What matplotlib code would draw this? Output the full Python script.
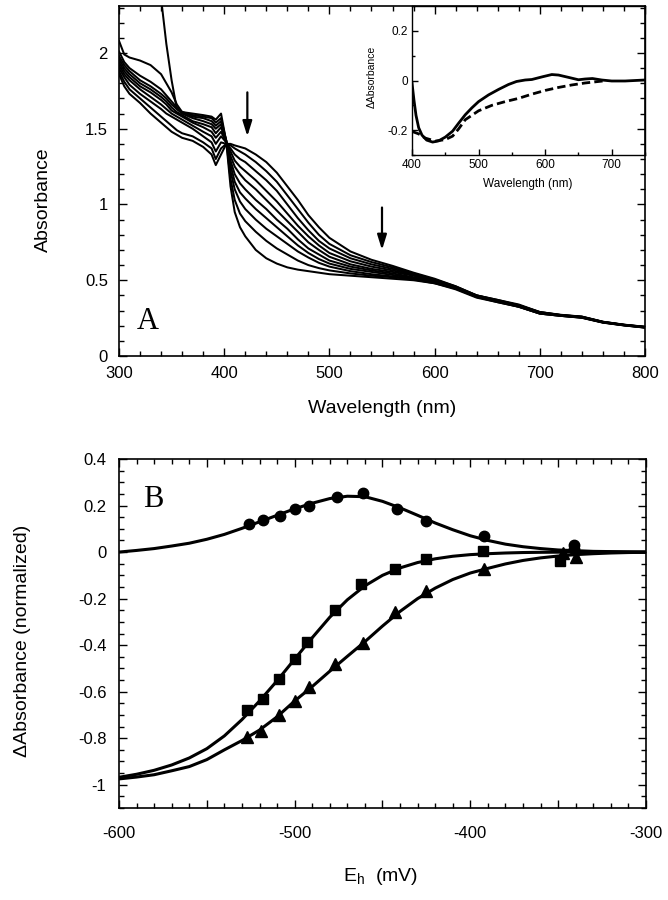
import matplotlib
matplotlib.use('Agg')
import matplotlib.pyplot as plt
from matplotlib.ticker import MultipleLocator, FuncFormatter

plt.rcParams['font.family'] = ['Liberation Sans', 'DejaVu Sans']
plt.rcParams['axes.unicode_minus'] = False
plt.rcParams['mathtext.fontset'] = 'custom'
plt.rcParams['mathtext.rm'] = 'Liberation Sans'

# ---------------- Panel A: redox titration spectra ----------------
wavelength = [300, 305, 310, 320, 330, 340, 345, 350, 355, 360, 370, 380, 388, 392, 397, 402,
              406, 410, 415, 420, 430, 440, 450, 460, 470, 480, 490, 500, 520, 540, 560, 580,
              600, 620, 640, 660, 680, 700, 720, 740, 760, 780, 800]

spec_01 = [1.86, 1.78, 1.73, 1.67, 1.60, 1.54, 1.51, 1.48, 1.46, 1.44, 1.42, 1.38, 1.33, 1.26, 1.33, 1.40,
           1.40, 1.39, 1.38, 1.37, 1.33, 1.28, 1.21, 1.12, 1.03, 0.93, 0.85, 0.78, 0.69, 0.635, 0.595, 0.55,
           0.51, 0.46, 0.40, 0.37, 0.34, 0.29, 0.272, 0.26, 0.226, 0.207, 0.193]
spec_02 = [1.88, 1.81, 1.76, 1.70, 1.64, 1.58, 1.55, 1.52, 1.49, 1.47, 1.45, 1.41, 1.37, 1.30, 1.37, 1.40,
           1.39, 1.37, 1.35, 1.33, 1.28, 1.22, 1.15, 1.06, 0.97, 0.88, 0.80, 0.74, 0.665, 0.62, 0.585, 0.545,
           0.505, 0.46, 0.40, 0.37, 0.335, 0.29, 0.27, 0.26, 0.226, 0.206, 0.192]
spec_03 = [1.90, 1.84, 1.79, 1.73, 1.68, 1.63, 1.60, 1.58, 1.56, 1.54, 1.50, 1.45, 1.41, 1.35, 1.41, 1.40,
           1.37, 1.33, 1.30, 1.28, 1.22, 1.16, 1.09, 1.00, 0.91, 0.83, 0.76, 0.71, 0.645, 0.605, 0.575, 0.54,
           0.50, 0.455, 0.40, 0.365, 0.335, 0.29, 0.27, 0.258, 0.225, 0.206, 0.192]
spec_04 = [1.92, 1.86, 1.82, 1.76, 1.71, 1.66, 1.63, 1.60, 1.58, 1.56, 1.52, 1.48, 1.45, 1.40, 1.45, 1.41,
           1.35, 1.29, 1.25, 1.22, 1.16, 1.09, 1.02, 0.94, 0.86, 0.79, 0.73, 0.68, 0.625, 0.59, 0.565, 0.535,
           0.50, 0.455, 0.395, 0.365, 0.335, 0.285, 0.27, 0.258, 0.224, 0.205, 0.191]
spec_05 = [1.94, 1.88, 1.84, 1.78, 1.74, 1.69, 1.66, 1.62, 1.60, 1.58, 1.54, 1.51, 1.48, 1.44, 1.48, 1.41,
           1.32, 1.25, 1.20, 1.16, 1.10, 1.03, 0.96, 0.89, 0.82, 0.75, 0.70, 0.655, 0.605, 0.575, 0.555, 0.53,
           0.495, 0.45, 0.395, 0.365, 0.33, 0.285, 0.268, 0.256, 0.224, 0.205, 0.19]
spec_06 = [1.96, 1.90, 1.86, 1.80, 1.76, 1.71, 1.68, 1.64, 1.61, 1.59, 1.55, 1.53, 1.51, 1.47, 1.51, 1.41,
           1.29, 1.20, 1.14, 1.10, 1.03, 0.97, 0.90, 0.84, 0.77, 0.71, 0.67, 0.63, 0.59, 0.565, 0.545, 0.52,
           0.49, 0.45, 0.395, 0.36, 0.33, 0.285, 0.268, 0.256, 0.223, 0.204, 0.19]
spec_07 = [1.98, 1.92, 1.88, 1.82, 1.78, 1.73, 1.70, 1.66, 1.63, 1.60, 1.57, 1.55, 1.53, 1.50, 1.53, 1.42,
           1.26, 1.15, 1.08, 1.04, 0.97, 0.91, 0.85, 0.79, 0.73, 0.68, 0.64, 0.61, 0.575, 0.555, 0.535, 0.515,
           0.49, 0.45, 0.39, 0.36, 0.33, 0.285, 0.267, 0.255, 0.222, 0.204, 0.189]
spec_08 = [2.01, 1.94, 1.90, 1.85, 1.81, 1.76, 1.72, 1.68, 1.64, 1.61, 1.58, 1.57, 1.55, 1.52, 1.55, 1.42,
           1.22, 1.10, 1.02, 0.97, 0.90, 0.84, 0.79, 0.74, 0.69, 0.65, 0.615, 0.59, 0.56, 0.54, 0.525, 0.51,
           0.485, 0.445, 0.39, 0.36, 0.325, 0.28, 0.265, 0.254, 0.222, 0.203, 0.188]
spec_09 = [2.08, 1.99, 1.97, 1.95, 1.92, 1.86, 1.80, 1.74, 1.66, 1.61, 1.59, 1.58, 1.57, 1.54, 1.57, 1.42,
           1.17, 1.03, 0.94, 0.89, 0.82, 0.76, 0.71, 0.67, 0.63, 0.60, 0.58, 0.565, 0.545, 0.53, 0.52, 0.505,
           0.48, 0.445, 0.39, 0.355, 0.325, 0.28, 0.265, 0.253, 0.221, 0.202, 0.188]
spec_10 = [3.90, 3.75, 3.60, 3.30, 2.85, 2.36, 2.06, 1.82, 1.63, 1.61, 1.60, 1.59, 1.58, 1.56, 1.60, 1.41,
           1.12, 0.95, 0.85, 0.79, 0.70, 0.645, 0.61, 0.585, 0.57, 0.56, 0.55, 0.54, 0.53, 0.52, 0.51, 0.50,
           0.48, 0.44, 0.385, 0.355, 0.325, 0.28, 0.265, 0.252, 0.22, 0.202, 0.187]
spectra = [spec_01, spec_02, spec_03, spec_04, spec_05, spec_06, spec_07, spec_08, spec_09, spec_10]

arrow_x = [422, 550]
arrow_from = [1.74, 0.98]
arrow_to = [1.45, 0.70]

# ---------------- Inset: difference spectra ----------------
inset_wl_solid = [400, 403, 406, 410, 415, 422, 431, 440, 450, 461, 470, 480, 490, 500, 515, 530, 545,
                  557, 570, 580, 596, 610, 620, 636, 650, 660, 671, 685, 700, 720, 735, 750]
inset_solid = [-0.01, -0.08, -0.14, -0.19, -0.22, -0.24, -0.248, -0.243, -0.228, -0.204, -0.172, -0.138,
               -0.11, -0.085, -0.058, -0.036, -0.016, -0.004, 0.002, 0.004, 0.015, 0.024, 0.022, 0.012,
               0.003, 0.006, 0.008, 0.002, -0.002, -0.002, 0.0, 0.002]
inset_wl_dashed = [400, 410, 420, 435, 450, 461, 470, 480, 500, 520, 540, 560, 580, 600, 620, 640, 660, 680, 690]
inset_dashed = [-0.205, -0.215, -0.232, -0.244, -0.238, -0.224, -0.195, -0.158, -0.122, -0.1, -0.085,
                -0.072, -0.055, -0.04, -0.028, -0.018, -0.01, -0.004, -0.001]

# ---------------- Panel B: titration curves ----------------
eh_circle = [-526, -518, -508.5, -500, -492, -476, -461, -442, -425, -392, -341, -341]
da_circle = [0.12, 0.139, 0.156, 0.185, 0.199, 0.235, 0.256, 0.185, 0.134, 0.07, 0.03, 0.012]
eh_square = [-527, -518, -509, -500, -493, -477, -462, -443, -425, -393, -349]
da_square = [-0.68, -0.63, -0.545, -0.46, -0.385, -0.25, -0.137, -0.073, -0.03, 0.005, -0.04]
eh_triangle = [-527, -519, -509, -500, -492, -477, -461, -443, -425, -392, -347, -340]
da_triangle = [-0.795, -0.767, -0.702, -0.638, -0.581, -0.48, -0.39, -0.259, -0.166, -0.073, -0.005, -0.023]

eh_fit = [-600, -590, -580, -570, -560, -550, -540, -530, -520, -510, -500, -490, -480, -470, -460, -450,
          -440, -430, -420, -410, -400, -390, -380, -370, -360, -350, -340, -330, -320, -310, -300]
fit_circle = [0.0, 0.007, 0.015, 0.026, 0.038, 0.055, 0.076, 0.102, 0.13, 0.158, 0.186, 0.21, 0.23, 0.24,
              0.238, 0.218, 0.19, 0.158, 0.125, 0.096, 0.07, 0.05, 0.034, 0.023, 0.015, 0.009, 0.006,
              0.003, 0.002, 0.001, 0.0]
fit_square = [-0.968, -0.955, -0.938, -0.915, -0.885, -0.845, -0.79, -0.72, -0.64, -0.553, -0.46, -0.368,
              -0.28, -0.205, -0.145, -0.1, -0.068, -0.045, -0.029, -0.018, -0.011, -0.007, -0.004, -0.002,
              -0.001, -0.0005, 0.0, 0.0, 0.0, 0.0, 0.0]
fit_triangle = [-0.975, -0.967, -0.957, -0.94, -0.922, -0.892, -0.85, -0.81, -0.765, -0.708, -0.64, -0.578,
                -0.512, -0.448, -0.385, -0.318, -0.255, -0.2, -0.155, -0.118, -0.09, -0.07, -0.051, -0.036,
                -0.025, -0.017, -0.011, -0.007, -0.004, -0.002, -0.001]

W, H = 668, 900
fig = plt.figure(figsize=(W / 100, H / 100), dpi=100)


def clean(v):
    r = round(v, 6)
    if r == 0:
        r = 0.0
    return f'{r:g}'


fmt_g = FuncFormatter(lambda v, p: clean(v))


def style(ax, right=True, top=True, lw=1.2, maj=6, mino=3.5):
    ax.tick_params(which='both', direction='in', top=top, right=right, width=1.0, colors='black')
    ax.tick_params(which='major', length=maj)
    ax.tick_params(which='minor', length=mino)
    for s in ax.spines.values():
        s.set_linewidth(lw)


# Panel A
axA = fig.add_axes([119 / W, 1 - 356 / H, 526 / W, 350 / H])
for s in spectra:
    axA.plot(wavelength, s, color='black', lw=1.45)
axA.set_xlim(300, 800)
axA.set_ylim(0, 2.31)
axA.xaxis.set_major_locator(MultipleLocator(100))
axA.xaxis.set_minor_locator(MultipleLocator(20))
axA.yaxis.set_major_locator(MultipleLocator(0.5))
axA.yaxis.set_minor_locator(MultipleLocator(0.1))
axA.yaxis.set_major_formatter(fmt_g)
style(axA)
axA.tick_params(axis='x', which='major', labelsize=12, pad=7)
axA.tick_params(axis='y', which='major', labelsize=12, pad=8)
axA.set_xlabel('Wavelength (nm)', fontsize=14)
axA.xaxis.label.set_va('center')
axA.xaxis.set_label_coords(0.5, -0.149)
axA.set_ylabel('Absorbance', fontsize=14)
axA.yaxis.label.set_va('center')
axA.yaxis.set_label_coords(-0.1445, 0.446)
for x, y0, y1 in zip(arrow_x, arrow_from, arrow_to):
    axA.annotate('', xy=(x, y1), xytext=(x, y0),
                 arrowprops=dict(arrowstyle='-|>,head_length=0.9,head_width=0.28',
                                 color='black', lw=1.6, shrinkA=0, shrinkB=0))
axA.text(0.034, 0.077, 'A', transform=axA.transAxes, family='Liberation Serif',
         fontsize=22, ha='left', va='baseline')

# Inset
axI = fig.add_axes([412 / W, 1 - 155 / H, 233 / W, 149 / H])
axI.patch.set_alpha(0)
axI.plot(inset_wl_solid, inset_solid, color='black', lw=2.0)
axI.plot(inset_wl_dashed, inset_dashed, color='black', lw=2.0, ls=(0, (3, 1.5)))
axI.set_xlim(400, 750)
axI.set_ylim(-0.3, 0.3)
axI.xaxis.set_major_locator(MultipleLocator(100))
axI.xaxis.set_minor_locator(MultipleLocator(50))
axI.yaxis.set_major_locator(MultipleLocator(0.2))
axI.yaxis.set_minor_locator(MultipleLocator(0.1))
axI.yaxis.set_major_formatter(fmt_g)
style(axI, right=False, top=False, lw=1.0, maj=4, mino=2.5)
axI.tick_params(axis='both', which='major', labelsize=8.5, pad=3)
axI.set_xlabel('Wavelength (nm)', fontsize=8.5)
axI.xaxis.label.set_va('center')
axI.xaxis.set_label_coords(0.498, -0.195)
axI.set_ylabel('\u0394Absorbance', fontsize=7.5)
axI.yaxis.label.set_va('center')
axI.yaxis.set_label_coords(-0.172, 0.523)

# Panel B
axB = fig.add_axes([119 / W, 1 - 808 / H, 527 / W, 349 / H])
axB.plot(eh_fit, fit_circle, color='black', lw=2.2)
axB.plot(eh_fit, fit_square, color='black', lw=2.2)
axB.plot(eh_fit, fit_triangle, color='black', lw=2.2)
axB.plot(eh_circle, da_circle, 'o', color='black', ms=7.5)
axB.plot(eh_square, da_square, 's', color='black', ms=7.5)
axB.plot(eh_triangle, da_triangle, '^', color='black', ms=8.5)
axB.set_xlim(-600, -300)
axB.set_ylim(-1.1, 0.4)
axB.xaxis.set_major_locator(MultipleLocator(50))
axB.xaxis.set_minor_locator(MultipleLocator(10))
axB.xaxis.set_major_formatter(FuncFormatter(lambda v, p: clean(v) if abs(round(v)) % 100 == 0 else ''))
axB.yaxis.set_major_locator(MultipleLocator(0.2))
axB.yaxis.set_minor_locator(MultipleLocator(0.05))
axB.yaxis.set_major_formatter(fmt_g)
style(axB)
axB.tick_params(axis='x', which='major', labelsize=12, pad=13)
axB.tick_params(axis='y', which='major', labelsize=12, pad=9)
axB.set_xlabel(r'E$_{\mathregular{h}}$  (mV)', fontsize=14)
axB.xaxis.label.set_va('center')
axB.xaxis.set_label_coords(0.496, -0.195)
axB.set_ylabel('\u0394Absorbance (normalized)', fontsize=14)
axB.yaxis.label.set_va('center')
axB.yaxis.set_label_coords(-0.184, 0.48)
axB.text(0.0455, 0.8625, 'B', transform=axB.transAxes, family='Liberation Serif',
         fontsize=22, ha='left', va='baseline')

fig.savefig('out.png', dpi=100)
